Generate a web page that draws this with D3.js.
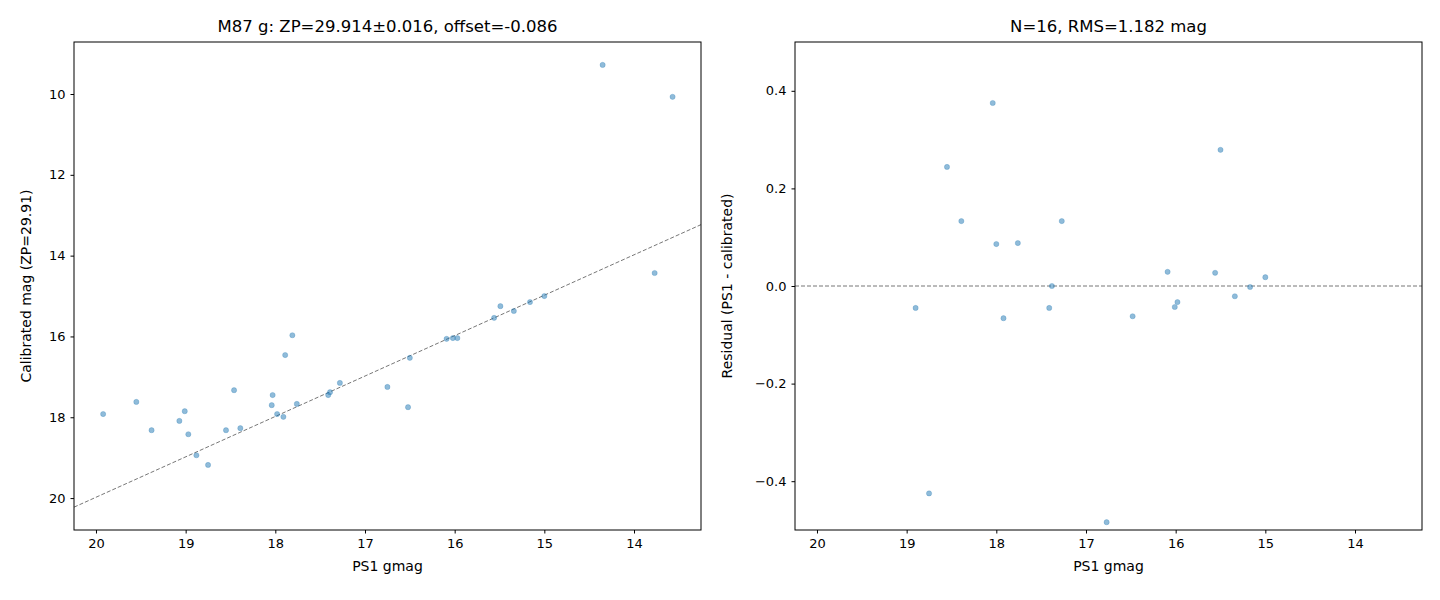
<!DOCTYPE html>
<html>
<head>
<meta charset="utf-8" />
<title>M87 g calibration</title>
<style>
body { margin:0; background:#fff; font-family:"DejaVu Sans", sans-serif; }
text { fill:#000; }
</style>
</head>
<body>
<div id="chart"></div>
<script src="https://d3js.org/d3.v7.min.js"></script>
<script>
// calibration panel
var calX = [19.92,19.55,19.38,19.07,19.01,18.97,18.88,18.75,18.55,18.46,18.39,18.04,18.03,17.98,17.91,17.89,17.81,17.76,17.41,17.39,17.28,16.75,16.52,16.50,16.09,16.02,15.97,15.56,15.49,15.34,15.16,15.00,14.35,13.77,13.57];
var calY = [17.92,17.62,18.32,18.09,17.85,18.42,18.94,19.18,18.32,17.33,18.27,17.70,17.45,17.92,17.99,16.46,15.97,17.67,17.45,17.38,17.15,17.25,17.75,16.53,16.06,16.04,16.04,15.54,15.25,15.37,15.15,15.00,9.28,14.43,10.07];
// residual panel
var resX = [18.90,18.75,18.55,18.39,18.04,18.00,17.92,17.76,17.41,17.38,17.27,16.77,16.48,16.09,16.01,15.98,15.56,15.50,15.34,15.17,15.00];
var resY = [-0.045,-0.425,0.244,0.133,0.375,0.086,-0.066,0.088,-0.045,0.0,0.133,-0.484,-0.062,0.029,-0.043,-0.033,0.027,0.279,-0.021,-0.002,0.018];
var xTicks = [20,19,18,17,16,15,14];
var calTicks = [10,12,14,16,18,20];
var resTicks = [-0.4,-0.2,0.0,0.2,0.4];
var lineX = [20.245,13.253];

var svg = d3.select("#chart").append("svg").attr("width",1440).attr("height",600);
var fmt1 = function(d){ return String(d).replace("-","\u2212"); };

function panel(left, yDom, yTicks, yFmt, xs, ys, title, ylabel, labelOff, refLine) {
  var top = 42, bottom = 530, right = left + 627;
  var x = d3.scaleLinear().domain([20.245,13.253]).range([left,right]);
  var y = d3.scaleLinear().domain(yDom).range([top,bottom]);
  var g = svg.append("g");
  if (refLine === "diag") {
    g.append("line").attr("x1",x(lineX[0])).attr("x2",x(lineX[1]))
      .attr("y1",y(lineX[0]-0.02)).attr("y2",y(lineX[1]-0.02))
      .attr("stroke","#777").attr("stroke-dasharray","4,2");
  } else {
    g.append("line").attr("x1",left).attr("x2",right).attr("y1",y(0)).attr("y2",y(0))
      .attr("stroke","#777").attr("stroke-dasharray","4,2");
  }
  g.selectAll("circle").data(xs).enter().append("circle")
    .attr("cx",function(d){return x(d);})
    .attr("cy",function(d,i){return y(ys[i]);})
    .attr("r",2.6).attr("fill","#1f77b4").attr("fill-opacity",0.5)
    .attr("stroke","#1f77b4").attr("stroke-opacity",0.5).attr("stroke-width",0.5);
  var xa = g.append("g").attr("transform","translate(0,"+bottom+")")
    .call(d3.axisBottom(x).tickValues(xTicks).tickSize(3.5).tickPadding(5).tickFormat(d3.format("d")));
  var ya = g.append("g").attr("transform","translate("+left+",0)")
    .call(d3.axisLeft(y).tickValues(yTicks).tickSize(3.5).tickPadding(5).tickFormat(yFmt));
  [xa,ya].forEach(function(a){
    a.select(".domain").remove();
    a.selectAll("text").attr("font-size",13).attr("font-family","DejaVu Sans");
  });
  g.append("rect").attr("x",left).attr("y",top).attr("width",right-left).attr("height",bottom-top)
    .attr("fill","none").attr("stroke","#000").attr("stroke-width",1);
  g.append("text").attr("x",(left+right)/2).attr("y",32).attr("text-anchor","middle")
    .attr("font-size",16.5).text(title);
  g.append("text").attr("x",(left+right)/2).attr("y",571).attr("text-anchor","middle")
    .attr("font-size",14).text("PS1 gmag");
  g.append("text").attr("transform","translate("+(left-labelOff)+","+((top+bottom)/2)+") rotate(-90)")
    .attr("text-anchor","middle").attr("font-size",14).text(ylabel);
}

panel(74, [8.713,20.79], calTicks, d3.format("d"), calX, calY,
  "M87 g: ZP=29.914\u00b10.016, offset=-0.086", "Calibrated mag (ZP=29.91)", 43, "diag");
panel(795, [0.5,-0.5], resTicks, function(d){ return fmt1(d3.format(".1f")(d)); }, resX, resY,
  "N=16, RMS=1.182 mag", "Residual (PS1 - calibrated)", 63, "zero");
</script>
</body>
</html>
